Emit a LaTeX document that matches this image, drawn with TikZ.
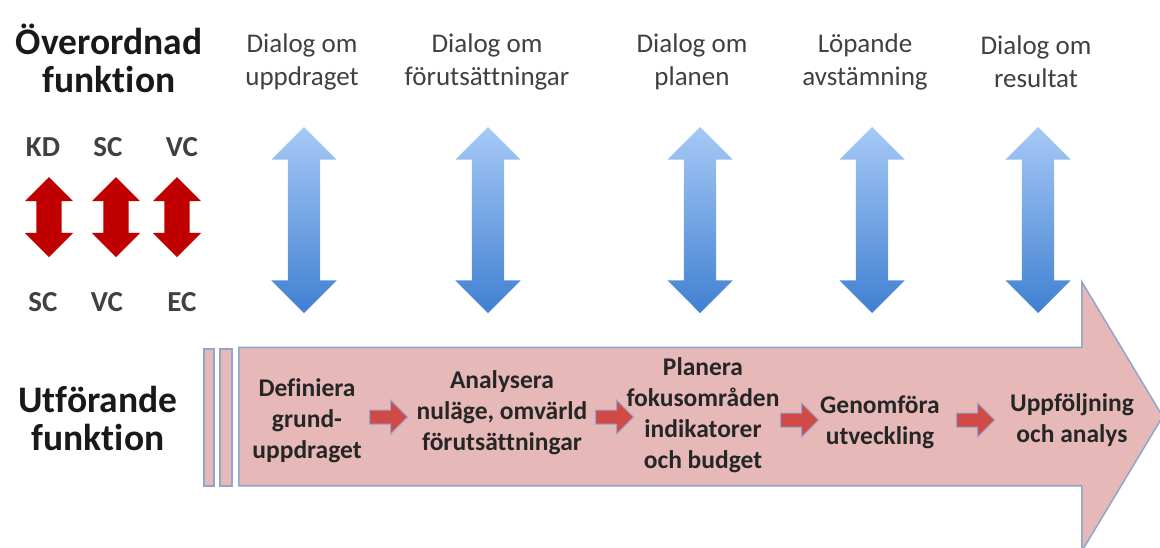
\documentclass[tikz,border=0pt]{standalone}
\usepackage{fontspec}
\setmainfont{Carlito}[Ligatures={NoCommon,NoContextual}, Contextuals={NoAlternate}]
\usepackage{xcolor}
\usetikzlibrary{shapes.arrows}
\definecolor{StepPink}{HTML}{E6B9B8}
\definecolor{EdgeBlue}{HTML}{8FA6CC}
\definecolor{DarkRed}{HTML}{C00000}
\definecolor{SmallRed}{HTML}{D24A47}
\definecolor{TopBlue}{HTML}{A6C9F5}
\definecolor{LowBlue}{HTML}{4080D2}
\definecolor{TextGrey}{HTML}{404040}
\tikzstyle{titleText}=[align=center, inner sep=0pt, text=black!90, font=\fontsize{37.5}{38}\selectfont\bfseries]
\tikzstyle{dialogText}=[align=center, inner sep=0pt, text=TextGrey, font=\fontsize{27}{33}\selectfont]
\tikzstyle{roleText}=[inner sep=0pt, text=TextGrey, font=\fontsize{29}{30}\selectfont\bfseries]
\tikzstyle{stepText}=[align=center, inner sep=0pt, text=black!85, font=\fontsize{25.5}{31}\selectfont\bfseries]
\tikzstyle{dialogArrow}=[double arrow, rotate=90, inner xsep=0pt, inner ysep=16pt, minimum height=186pt, minimum width=65pt, double arrow head extend=16.5pt, top color=TopBlue, bottom color=LowBlue]
\tikzstyle{roleArrow}=[double arrow, rotate=90, inner xsep=0pt, inner ysep=12.5pt, minimum height=80pt, minimum width=48pt, double arrow head extend=11.5pt, fill=DarkRed]
\tikzstyle{stepArrow}=[single arrow, inner xsep=0pt, inner ysep=6.5pt, minimum height=38pt, minimum width=33pt, single arrow head extend=10pt, fill=SmallRed, draw=EdgeBlue, line width=1pt]
\tikzstyle{barBox}=[fill=StepPink, draw=EdgeBlue, line width=1.5pt]

\begin{document}
\begin{tikzpicture}[x=1pt, y=-1pt]

        \useasboundingbox (0, 0) rectangle (1160, 547);

        % Left headings
        \node[titleText] (top) at (109, 58) {Överordnad\\funktion};
        \node[titleText] (bottom) at (98, 418) {Utförande\\funktion};

        % Roles above and below
        \node[roleText] (kd) at (43, 147) {KD};
        \node[roleText] (sc1) at (108, 147) {SC};
        \node[roleText] (vc1) at (182, 147) {VC};
        \node[roleArrow] (r0) at (49, 217) {};
        \node[roleArrow] (r1) at (116, 217) {};
        \node[roleArrow] (r2) at (177, 217) {};
        \node[roleText] (sc2) at (43, 302) {SC};
        \node[roleText] (vc2) at (107, 302) {VC};
        \node[roleText] (ec) at (182, 302) {EC};

        % Dialogs
        \node[dialogText] (d0) at (302, 62) {Dialog om\\uppdraget};
        \node[dialogText] (d1) at (487, 62) {Dialog om\\förutsättningar};
        \node[dialogText] (d2) at (692, 62) {Dialog om\\planen};
        \node[dialogText] (d3) at (865, 62) {Löpande\\avstämning};
        \node[dialogText] (d4) at (1036, 62) {Dialog om\\resultat};
        \node[dialogArrow] (a0) at (304, 220) {};
        \node[dialogArrow] (a1) at (488, 220) {};
        \node[dialogArrow] (a2) at (700, 220) {};
        \node[dialogArrow] (a3) at (872, 220) {};
        \node[dialogArrow] (a4) at (1038, 220) {};

        % Process arrow
        \draw[barBox] (204, 349) rectangle (214, 486);
        \draw[barBox] (220, 349) rectangle (232, 486);
        \node[single arrow, fill=StepPink, draw=EdgeBlue, line width=1.5pt, inner xsep=0pt, inner ysep=68.5pt, minimum height=924pt, minimum width=268pt, single arrow head extend=65.5pt, single arrow tip angle=118, anchor=tail] (process) at (238, 416.5) {};

        \node[stepText] (s0) at (307, 421) {Definiera\\grund-\\uppdraget};
        \node[stepText] (s1) at (502, 413) {Analysera\\nuläge, omvärld\\förutsättningar};
        \node[stepText] (s2) at (703, 415) {Planera\\fokusområden\\indikatorer\\och budget};
        \node[stepText] (s3) at (880, 422) {Genomföra\\utveckling};
        \node[stepText] (s4) at (1072, 420) {Uppföljning\\och analys};

        \node[stepArrow] (p0) at (385, 417) {};
        \node[stepArrow] (p1) at (611, 417) {};
        \node[stepArrow] (p2) at (796, 420) {};
        \node[stepArrow] (p3) at (972, 420) {};

    \end{tikzpicture}
\end{document}
